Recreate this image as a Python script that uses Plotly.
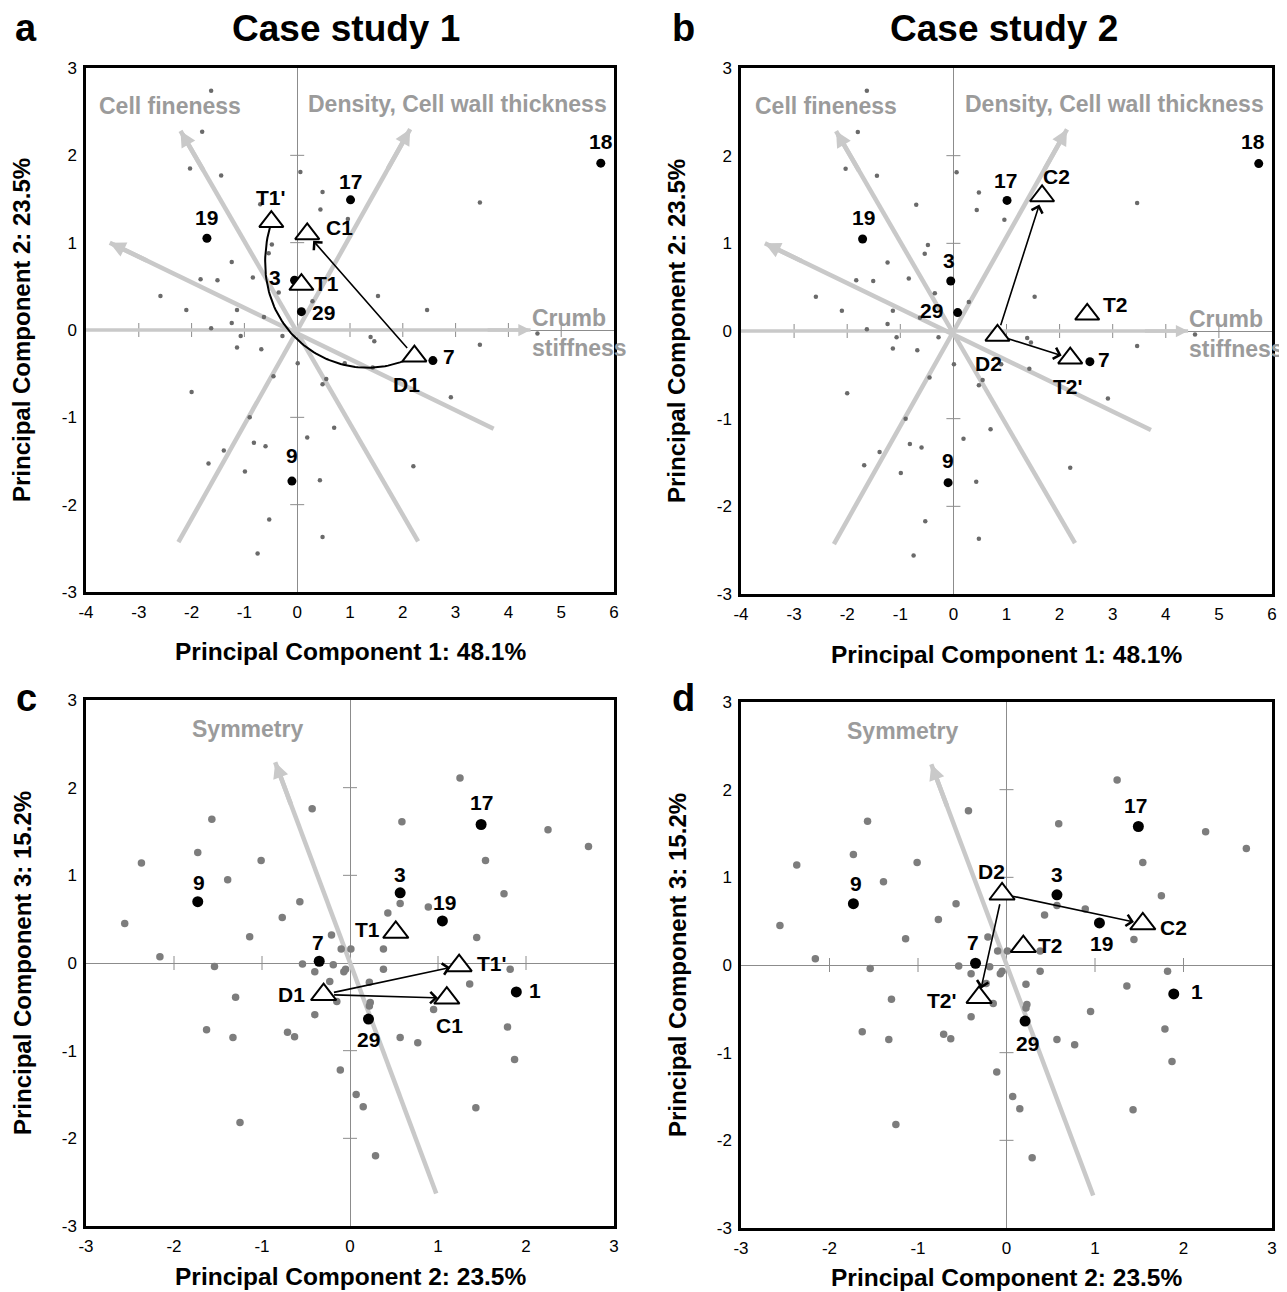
import numpy as np
import plotly.graph_objects as go

FONT = "Arial, Liberation Sans, Helvetica, sans-serif"
PAGE_W, PAGE_H = 1287, 1292
OFF = 8                      # default page body margin
W, H = PAGE_W - OFF, PAGE_H - OFF

# ---------------- data ----------------
# background samples, PC1 vs PC2 (panels a, b)
bg12_pc1 = [-1.63, -1.80, -2.03, -1.44, 0.06, 0.48, 0.44, 3.46, -0.48, -0.54, -1.24, -1.83,
            -1.51, -0.84, -2.59, -0.35, 1.53, 2.46, -2.10, -1.14, -0.63, -1.24, -1.63,
            -0.70, 0.96, 0.29,
            -1.07, -0.28, -1.14, -0.68, 1.39, 1.46, 3.46, 4.55, 0.01, 0.90, 1.43, -0.45,
            0.55, 0.48, -2.00, 2.91, -0.90, 0.70, 0.19, -0.82, -0.60, -1.39, -1.68, -0.99,
            0.43, 2.20, -0.53, 0.48, -0.75]
bg12_pc2 = [2.74, 2.27, 1.85, 1.77, 1.81, 1.58, 1.38, 1.46, 0.98, 0.88, 0.78, 0.58,
            0.57, 0.60, 0.39, 0.43, 0.39, 0.23, 0.23, 0.23, 0.15, 0.08, 0.02,
            1.44, 1.27, 0.33,
            -0.07, -0.07, -0.20, -0.22, -0.08, -0.13, -0.17, -0.04, -0.38, -0.38, -0.43, -0.53,
            -0.56, -0.62, -0.71, -0.77, -1.00, -1.12, -1.23, -1.29, -1.33, -1.38, -1.53, -1.62,
            -1.72, -1.56, -2.17, -2.37, -2.56]
# background samples, PC2 vs PC3 (panels c, d)
bg23_pc2 = [1.25, -0.43, -1.57, 0.59, 2.25, 2.71, -1.73, -2.37, -1.01, 1.54, -1.39, 1.75,
            -0.57, 0.57, 0.89, 0.43, -0.77, -2.56, -1.14, -0.21, 1.44, -0.10, 0.01, 0.38,
            -2.16, -1.54, -0.54, -0.19, -0.05, -0.07, -0.40, 0.38, 1.82, -0.23, 0.22, 1.36,
            -1.30, -0.15, 0.23, 0.22, 0.95, -0.40, -1.63, 1.79, -1.33, -0.71, -0.63, 0.57,
            0.77, 1.87, -0.11, 0.07, 0.15, 1.43, -1.25, 0.29]
bg23_pc3 = [2.11, 1.76, 1.64, 1.61, 1.52, 1.33, 1.26, 1.14, 1.17, 1.17, 0.95, 0.79,
            0.70, 0.68, 0.64, 0.57, 0.52, 0.45, 0.30, 0.32, 0.29, 0.16, 0.16, 0.16,
            0.07, -0.04, -0.01, -0.02, -0.07, -0.10, -0.10, -0.07, -0.07, -0.21, -0.22, -0.24,
            -0.39, -0.44, -0.45, -0.49, -0.53, -0.59, -0.76, -0.73, -0.85, -0.79, -0.84, -0.85,
            -0.91, -1.10, -1.22, -1.50, -1.64, -1.65, -1.82, -2.20]

# highlighted samples
hl12_ids = ["18", "17", "19", "3", "29", "7", "9"]
hl12_pc1 = [5.75, 1.01, -1.71, -0.05, 0.08, 2.57, -0.10]
hl12_pc2 = [1.91, 1.49, 1.05, 0.57, 0.21, -0.35, -1.73]
hl23_ids = ["17", "19", "3", "29", "7", "9", "1"]
hl23_pc2 = [1.49, 1.05, 0.57, 0.21, -0.35, -1.73, 1.89]
hl23_pc3 = [1.58, 0.48, 0.80, -0.64, 0.02, 0.70, -0.33]

# treatment triangles
tri_ids = ["C1", "T1", "T1'", "D1", "C2", "T2", "T2'", "D2"]
tri_pc1 = [0.19, 0.08, -0.49, 2.22, 1.67, 2.52, 2.20, 0.83]
tri_pc2 = [1.10, 0.52, 1.24, -0.30, 1.54, 0.19, -0.31, -0.05]
tri_pc3 = [-0.40, 0.35, -0.03, -0.36, 0.47, 0.21, -0.37, 0.81]
case1_tris = ["C1", "T1", "T1'", "D1"]
case2_tris = ["C2", "T2", "T2'", "D2"]

# loadings (tip = arrow head, tail = opposite extension)
load12_names = ["Cell fineness", "Density, Cell wall thickness", "Crumb<br>lightness", "Crumb<br>stiffness"]
load12_tip_pc1 = [-2.21, 2.14, -3.55, 4.42]
load12_tip_pc2 = [2.28, 2.30, 1.00, 0.00]
load12_tail_pc1 = [2.29, -2.25, 3.72, -4.00]
load12_tail_pc2 = [-2.42, -2.43, -1.13, 0.00]
load23_names = ["Symmetry"]
load23_tip_pc2 = [-0.85]
load23_tip_pc3 = [2.29]
load23_tail_pc2 = [0.98]
load23_tail_pc3 = [-2.63]

# movements between treatments
moves_a = [("D1", "C1")]
moves_b = [("D2", "C2"), ("D2", "T2'")]
moves_c = [("D1", "T1'"), ("D1", "C1")]
moves_d = [("D2", "C2"), ("D2", "T2'")]
curve_a = ("D1", "T1'")

x12_ticks = [-4, -3, -2, -1, 0, 1, 2, 3, 4, 5, 6]
x12_labels = ["-4", "-3", "-2", "-1", "0", "1", "2", "3", "4", "5", "6"]
y_ticks = [-3, -2, -1, 0, 1, 2, 3]
y_labels = ["-3", "-2", "-1", "0", "1", "2", "3"]
x23_ticks = [-3, -2, -1, 0, 1, 2, 3]
x23_labels = ["-3", "-2", "-1", "0", "1", "2", "3"]

# ---------------- styles / positions ----------------
LOAD_LINE = "#c9c9c9"
LOAD_TEXT = "#9b9b9b"
AXIS_GREY = "#8c8c8c"

curve_ctrl = [(0.8, -0.75), (-1.1, 0.0)]  # bezier control points (data units)

load12_label_pos = [(-2.40, 2.57, "center"), (3.03, 2.59, "center"),
                    (-4.66, 1.45, "left"), (4.40, -0.03, "left")]
load23_label_pos = [(-1.17, 2.67, "center")]

lab_off = {
    "a": {"18": (0, 22), "17": (0, 18), "19": (0, 21), "3": (-20, 3), "29": (22, -1), "7": (16, 4),
          "9": (0, 26), "C1": (32, 6), "T1": (25, 1), "T1'": (0, 24), "D1": (-8, -28)},
    "b": {"18": (-6, 22), "17": (-2, 20), "19": (1, 21), "3": (-2, 21), "29": (-26, 2), "7": (14, 2),
          "9": (0, 22), "C2": (14, 19), "T2": (28, 10), "T2'": (-2, -28), "D2": (-9, -28)},
    "c": {"17": (0, 22), "19": (2, 18), "3": (0, 18), "29": (0, -20), "7": (-1, 19), "9": (1, 19),
          "1": (19, 1), "T1": (-28, 3), "T1'": (33, 2), "D1": (-32, 0), "C1": (3, -27)},
    "d": {"17": (-3, 21), "19": (2, -21), "3": (0, 20), "29": (2, -22), "7": (-3, 21), "9": (3, 20),
          "1": (23, 2), "D2": (-11, 22), "C2": (31, -4), "T2": (27, 1), "T2'": (-37, -3)},
}

# panel frames in page pixels: left, right, top, bottom, x-title offset
frames = {"a": (86, 614, 68, 592, 60), "b": (741, 1272, 68, 594, 60),
          "c": (86, 614, 700, 1226, 50), "d": (741, 1272, 702, 1228, 49)}


def px_x(px):
    return (px - OFF) / W


def px_y(py):
    return 1 - (py - OFF) / H


fig = go.Figure()
annotations = []


def tri_val(arr, name):
    return arr[tri_ids.index(name)]


def add_panel(key, idx, mode):
    xa = "x" if idx == 1 else f"x{idx}"
    ya = "y" if idx == 1 else f"y{idx}"
    if mode == 12:
        bx, by = bg12_pc1, bg12_pc2
        hx, hy, hids = hl12_pc1, hl12_pc2, hl12_ids
        tx_arr, ty_arr = tri_pc1, tri_pc2
        lnames = load12_names
        ltipx, ltipy, ltailx, ltaily = load12_tip_pc1, load12_tip_pc2, load12_tail_pc1, load12_tail_pc2
        lpos = load12_label_pos
        xticks, xlabels = x12_ticks, x12_labels
        bg_size, bg_col, hl_size, tri_size = 4.5, "#6a6a6a", 9, 21
    else:
        bx, by = bg23_pc2, bg23_pc3
        hx, hy, hids = hl23_pc2, hl23_pc3, hl23_ids
        tx_arr, ty_arr = tri_pc2, tri_pc3
        lnames = load23_names
        ltipx, ltipy, ltailx, ltaily = load23_tip_pc2, load23_tip_pc3, load23_tail_pc2, load23_tail_pc3
        lpos = load23_label_pos
        xticks, xlabels = x23_ticks, x23_labels
        bg_size, bg_col, hl_size, tri_size = 7.5, "#7d7d7d", 11, 22
    tris = case1_tris if key in ("a", "c") else case2_tris
    moves = {"a": moves_a, "b": moves_b, "c": moves_c, "d": moves_d}[key]

    # tick crosses on zero axes
    inner_x = [t for t in xticks[1:-1] if t != 0]
    inner_y = [t for t in y_ticks[1:-1] if t != 0]
    fig.add_trace(go.Scatter(x=inner_x, y=[0] * len(inner_x),
                             mode="markers", xaxis=xa, yaxis=ya, hoverinfo="skip", showlegend=False,
                             marker=dict(symbol="line-ns", size=10, line=dict(width=1, color=AXIS_GREY))))
    fig.add_trace(go.Scatter(x=[0] * len(inner_y), y=inner_y,
                             mode="markers", xaxis=xa, yaxis=ya, hoverinfo="skip", showlegend=False,
                             marker=dict(symbol="line-ew", size=10, line=dict(width=1, color=AXIS_GREY))))

    # loading lines
    for i, name in enumerate(lnames):
        horiz = ltipy[i] == 0 and ltaily[i] == 0
        lw = 3.5 if horiz else 4.5
        fig.add_trace(go.Scatter(x=[ltailx[i], ltipx[i]], y=[ltaily[i], ltipy[i]], mode="lines",
                                 xaxis=xa, yaxis=ya, hoverinfo="skip", showlegend=False,
                                 line=dict(color=LOAD_LINE, width=lw)))
        fx = ltailx[i] + 0.9 * (ltipx[i] - ltailx[i])
        fy = ltaily[i] + 0.9 * (ltipy[i] - ltaily[i])
        annotations.append(dict(x=ltipx[i], y=ltipy[i], ax=fx, ay=fy, xref=xa, yref=ya,
                                axref=xa, ayref=ya, showarrow=True, arrowhead=2, arrowsize=0.7,
                                arrowwidth=lw, arrowcolor=LOAD_LINE, text=""))
        lx, ly, al = lpos[i]
        annotations.append(dict(x=lx, y=ly, xref=xa, yref=ya, text=name, showarrow=False,
                                xanchor=al, yanchor="middle", align=al,
                                font=dict(family=FONT, size=23, color=LOAD_TEXT, weight="bold")))

    # background samples
    fig.add_trace(go.Scatter(x=bx, y=by, mode="markers", xaxis=xa, yaxis=ya, showlegend=False,
                             marker=dict(size=bg_size, color=bg_col)))

    # curved movement (panel a)
    if key == "a":
        p0 = np.array([tri_val(tx_arr, curve_a[0]), tri_val(ty_arr, curve_a[0])])
        p3 = np.array([tri_val(tx_arr, curve_a[1]), tri_val(ty_arr, curve_a[1])])
        p1 = np.array(curve_ctrl[0])
        p2 = np.array(curve_ctrl[1])
        t = np.linspace(0, 1, 80)[:, None]
        pts = (1 - t) ** 3 * p0 + 3 * (1 - t) ** 2 * t * p1 + 3 * (1 - t) * t ** 2 * p2 + t ** 3 * p3
        fig.add_trace(go.Scatter(x=pts[:, 0], y=pts[:, 1], mode="lines", xaxis=xa, yaxis=ya,
                                 hoverinfo="skip", showlegend=False,
                                 line=dict(color="black", width=2)))

    # highlighted samples
    fig.add_trace(go.Scatter(x=hx, y=hy, mode="markers", xaxis=xa, yaxis=ya, showlegend=False,
                             marker=dict(size=hl_size, color="black")))
    # triangles
    fig.add_trace(go.Scatter(x=[tri_val(tx_arr, n) for n in tris], y=[tri_val(ty_arr, n) for n in tris],
                             mode="markers", xaxis=xa, yaxis=ya, showlegend=False,
                             marker=dict(symbol="triangle-up", size=tri_size, color="white",
                                         line=dict(color="black", width=2))))

    # movement arrows
    for a, b in moves:
        annotations.append(dict(x=tri_val(tx_arr, b), y=tri_val(ty_arr, b),
                                ax=tri_val(tx_arr, a), ay=tri_val(ty_arr, a),
                                xref=xa, yref=ya, axref=xa, ayref=ya, text="", showarrow=True,
                                arrowhead=4, arrowsize=1.4, arrowwidth=1.6, arrowcolor="black",
                                standoff=9, startstandoff=9))

    # labels
    offs = lab_off[key]
    for n, x, y in zip(hids, hx, hy):
        dx, dy = offs[n]
        annotations.append(dict(x=x, y=y, xref=xa, yref=ya, text=n, showarrow=False,
                                xshift=dx, yshift=dy, xanchor="center", yanchor="middle",
                                font=dict(family=FONT, size=21, color="black", weight="bold")))
    for n in tris:
        dx, dy = offs[n]
        annotations.append(dict(x=tri_val(tx_arr, n), y=tri_val(ty_arr, n), xref=xa, yref=ya, text=n,
                                showarrow=False, xshift=dx, yshift=dy, xanchor="center", yanchor="middle",
                                font=dict(family=FONT, size=21, color="black", weight="bold")))

    # axes
    l, r, tp, bt, xto = frames[key]
    common = dict(showgrid=False, zeroline=True, zerolinecolor=AXIS_GREY, zerolinewidth=1,
                  showline=True, mirror=True, linecolor="black", linewidth=2.5,
                  ticks="outside", ticklen=3, tickcolor="rgba(0,0,0,0)", automargin=False,
                  tickfont=dict(family=FONT, size=17, color="black"), fixedrange=True)
    fig.layout[("xaxis" if idx == 1 else f"xaxis{idx}")] = dict(
        domain=[px_x(l), px_x(r)], range=[xticks[0], xticks[-1]], tickvals=xticks, ticktext=xlabels,
        anchor=ya, **common)
    fig.layout[("yaxis" if idx == 1 else f"yaxis{idx}")] = dict(
        domain=[px_y(bt), px_y(tp)], range=[y_ticks[0], y_ticks[-1]], tickvals=y_ticks,
        ticktext=y_labels, anchor=xa, **common)

    # axis titles
    xt = "Principal Component 1: 48.1%" if mode == 12 else "Principal Component 2: 23.5%"
    yt = "Principal Component 2: 23.5%" if mode == 12 else "Principal Component 3: 15.2%"
    annotations.append(dict(x=px_x((l + r) / 2), y=px_y(bt + xto), xref="paper", yref="paper", text=xt,
                            showarrow=False, xanchor="center", yanchor="middle",
                            font=dict(family=FONT, size=24.5, color="black", weight="bold")))
    annotations.append(dict(x=px_x(l - 64), y=px_y((tp + bt) / 2), xref="paper", yref="paper", text=yt,
                            showarrow=False, textangle=-90, xanchor="center", yanchor="middle",
                            font=dict(family=FONT, size=24, color="black", weight="bold")))


add_panel("a", 1, 12)
add_panel("b", 2, 12)
add_panel("c", 3, 23)
add_panel("d", 4, 23)

# panel letters and titles
for txt, px, py, sz in [("a", 26, 28, 38), ("b", 683, 28, 38), ("c", 26, 698, 38), ("d", 684, 698, 38),
                        ("Case study 1", 346, 28, 37), ("Case study 2", 1004, 28, 37)]:
    annotations.append(dict(x=px_x(px), y=px_y(py), xref="paper", yref="paper", text=txt, showarrow=False,
                            xanchor="center", yanchor="middle",
                            font=dict(family=FONT, size=sz, color="black", weight="bold")))

fig.update_layout(width=W, height=H, margin=dict(l=0, r=0, t=0, b=0),
                  paper_bgcolor="white", plot_bgcolor="white", showlegend=False,
                  annotations=annotations, font=dict(family=FONT))
fig.write_html("out.html")
